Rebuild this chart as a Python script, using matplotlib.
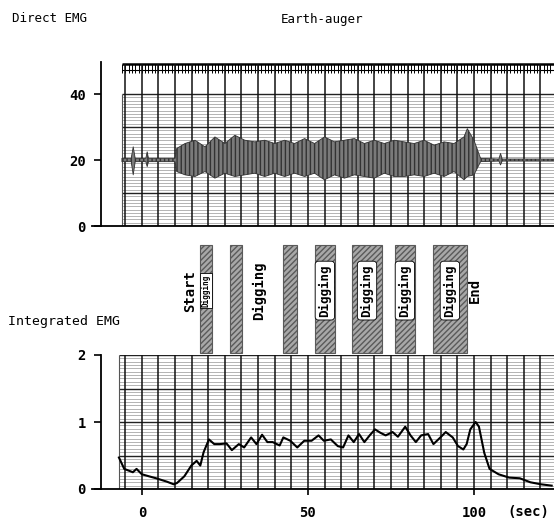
import numpy as np
import matplotlib.pyplot as plt

plt.rcParams['font.family'] = ['DejaVu Sans Mono', 'DejaVu Sans']

# integrated EMG trace (sec, value)
iemg_t = [-6.9, -5.3, -2.7, -1.6, 0.0, 2.1, 4.3, 7.5, 9.6, 10.6, 12.8, 14.9,
          16.5, 17.6, 18.6, 20.2, 21.8, 23.4, 25.5, 27.1, 29.2, 30.8, 32.9,
          34.5, 36.2, 37.8, 39.4, 41.5, 42.6, 44.7, 46.8, 48.9, 51.1, 53.2,
          54.8, 56.9, 59.0, 60.6, 62.2, 63.8, 65.4, 67.0, 68.6, 70.2, 71.8,
          73.4, 75.5, 77.1, 79.3, 80.9, 82.5, 84.1, 86.2, 87.8, 89.9, 91.5,
          93.6, 95.2, 96.8, 97.8, 98.9, 100.5, 101.5, 103.1, 104.7, 107.4,
          110.6, 113.8, 117.0, 120.2, 123.4]
iemg_v = [0.47, 0.30, 0.25, 0.30, 0.22, 0.19, 0.16, 0.11, 0.07, 0.09, 0.19,
          0.35, 0.42, 0.35, 0.55, 0.74, 0.67, 0.67, 0.68, 0.58, 0.67, 0.62,
          0.77, 0.67, 0.81, 0.70, 0.70, 0.65, 0.77, 0.72, 0.62, 0.72, 0.72,
          0.80, 0.72, 0.74, 0.64, 0.62, 0.80, 0.70, 0.82, 0.70, 0.80, 0.89,
          0.84, 0.80, 0.85, 0.78, 0.93, 0.80, 0.70, 0.80, 0.82, 0.67, 0.77,
          0.85, 0.77, 0.64, 0.59, 0.67, 0.89, 1.00, 0.93, 0.54, 0.30, 0.22,
          0.17, 0.16, 0.10, 0.07, 0.05]

# direct EMG envelope around the 20 baseline (sec, upper, lower)
emg_t = [-6.0, -3.2, -2.6, -2.0, 1.2, 1.6, 2.0, 10.0, 10.5, 13.0, 16.0,
         19.0, 22.0, 25.0, 28.0, 31.0, 34.0, 37.0, 40.0, 43.0, 46.0, 49.0,
         52.0, 55.0, 58.0, 61.0, 64.0, 67.0, 70.0, 73.0, 76.0, 79.0, 82.0,
         85.0, 88.0, 91.0, 94.0, 97.0, 98.0, 100.0, 102.0, 107.5, 108.0,
         108.5, 124.1]
emg_hi = [20.5, 20.5, 24.0, 20.5, 20.5, 22.5, 20.5, 20.5, 23.5, 25.0, 26.0,
          24.0, 27.0, 25.0, 27.5, 26.0, 25.5, 26.0, 25.0, 26.0, 25.0, 26.5,
          25.0, 27.0, 25.5, 26.0, 26.5, 25.0, 26.0, 25.0, 26.0, 25.5, 25.0,
          26.0, 24.5, 25.5, 25.0, 27.0, 29.5, 26.0, 20.5, 20.3, 22.0, 20.3,
          20.3]
emg_lo = [19.5, 19.5, 15.5, 19.5, 19.5, 18.0, 19.5, 19.5, 16.5, 15.5, 15.0,
          16.5, 14.5, 16.0, 15.0, 15.5, 16.0, 15.0, 16.0, 15.0, 16.0, 15.0,
          16.0, 14.0, 15.5, 14.5, 15.5, 15.0, 14.5, 16.0, 15.0, 15.0, 15.5,
          15.0, 16.0, 15.0, 16.5, 14.0, 15.0, 15.5, 19.5, 19.7, 18.5, 19.7,
          19.7]

# task periods (sec)
bar_start = [17.5, 26.5, 42.5, 52.1, 63.3, 76.2, 87.6]
bar_end = [21.1, 30.1, 46.7, 58.1, 72.3, 82.2, 97.9]
bar_text = ['Digging', '', '', 'Digging', 'Digging', 'Digging', 'Digging']

# loose labels above the lower record
mark_t = [14.5, 35.2, 100.3]
mark_text = ['Start', 'Digging', 'End']

XLIM = (-12.3, 124.1)
W, H = 554, 519


def px_axes(fig, left, top, right, bottom):
    return fig.add_axes([left / W, 1 - bottom / H, (right - left) / W, (bottom - top) / H])


def paper(ax, x0, y0, y1, major, minor):
    # recorder chart paper: fine lines, heavier lines, 5 s columns
    x1 = XLIM[1]
    for yv in np.arange(y0, y1, minor):
        ax.hlines(yv, x0, x1, color='#8a8a8a', lw=0.45, zorder=1)
    for yv in np.arange(y0, y1 + 1e-6, major):
        ax.hlines(yv, x0, x1, color='#222222', lw=1.0, zorder=2)
    for xv in np.arange(-5, x1, 5):
        ax.vlines(xv, y0, y1, color='#111111', lw=1.1, zorder=2)
    ax.vlines(x0, y0, y1, color='#555555', lw=0.8, zorder=2)


def style(ax):
    for s in ['top', 'right']:
        ax.spines[s].set_visible(False)
    ax.spines['left'].set_linewidth(1.3)
    ax.spines['bottom'].set_linewidth(1.3)
    ax.tick_params(direction='out', length=5, width=1.2, labelsize=10, pad=6)
    for lab in ax.get_yticklabels() + ax.get_xticklabels():
        lab.set_fontweight('bold')
    # base line runs a little past the left spine
    ax.plot([-15, XLIM[0]], [0, 0], color='black', lw=1.3, clip_on=False)


fig = plt.figure(figsize=(W / 100, H / 100), dpi=100)

# upper: direct EMG
ax1 = px_axes(fig, 101, 62, 554, 226)
ax1.set_xlim(*XLIM)
ax1.set_ylim(0, 49.7)
paper(ax1, -6, 0, 40, 10, 1.0)
ax1.hlines([49, 47.2], -6, XLIM[1], color='black', lw=[1.8, 0.8], zorder=2)
for xv in np.arange(-6, XLIM[1], 1):
    ax1.vlines(xv, 46.3, 49, color='black', lw=0.7, zorder=2)
for xv in np.arange(-5, XLIM[1], 5):
    ax1.vlines(xv, 40, 49, color='#111111', lw=1.1, zorder=2)
ax1.fill_between(emg_t, emg_lo, emg_hi, facecolor='#7a7a7a', edgecolor='#333333',
                 hatch='||||', lw=0.6, zorder=3)
ax1.set_yticks([0, 20, 40])
ax1.set_xticks([])
style(ax1)

# lower: integrated EMG
ax2 = px_axes(fig, 101, 355, 554, 489)
ax2.set_xlim(*XLIM)
ax2.set_ylim(0, 2)
paper(ax2, -7, 0, 2, 0.5, 0.05)
ax2.plot(iemg_t, iemg_v, color='black', lw=1.5, zorder=4)
ax2.set_yticks([0, 1, 2])
ax2.set_xticks([0, 50, 100])
style(ax2)
ax2.tick_params(axis='x', length=4, pad=8)

# task bars between the records
axb = px_axes(fig, 101, 240, 554, 355)
axb.set_xlim(*XLIM)
axb.set_ylim(0, 1)
axb.axis('off')
widths = [e - s for s, e in zip(bar_start, bar_end)]
axb.bar(bar_start, 0.94, width=widths, bottom=0.017, align='edge',
        color='#a8a8a8', edgecolor='#5a5a5a', hatch='//////', lw=0.8)
for s, e, t in zip(bar_start, bar_end, bar_text):
    if not t:
        continue
    small = (e - s) < 5
    axb.text((s + e) / 2, 0.56, t, rotation=90, ha='center', va='center',
             fontsize=5.5 if small else 9, fontweight='bold',
             bbox=dict(boxstyle='round,pad=0.25' if not small else 'square,pad=0.15',
                       fc='white', ec='black', lw=0.6))
for t, s in zip(mark_t, mark_text):
    axb.text(t, 0.56, s, rotation=90, ha='center', va='center', fontsize=10,
             fontweight='bold')

fig.text(12 / W, 1 - 18 / H, 'Direct EMG', fontsize=9, va='center')
fig.text(322 / W, 1 - 20 / H, 'Earth-auger', fontsize=9, va='center', ha='center')
fig.text(8 / W, 1 - 321 / H, 'Integrated EMG', fontsize=9.5, va='center')
fig.text(528 / W, 1 - 512 / H, '(sec)', fontsize=10, va='center', ha='center',
         fontweight='bold')

fig.savefig('out.png', dpi=100)
